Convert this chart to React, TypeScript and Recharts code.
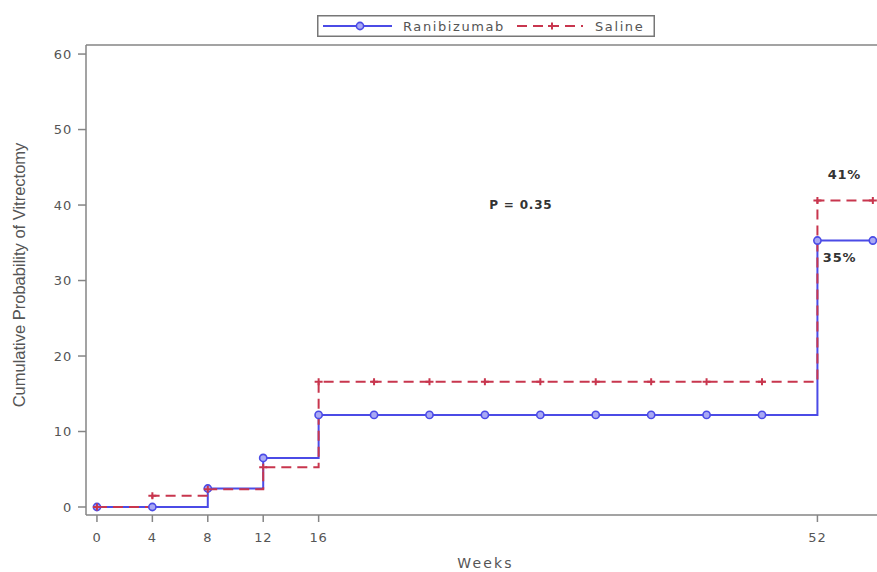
import React from 'react';
import { LineChart, Line, XAxis, YAxis, ReferenceDot } from 'recharts';

const weeks = [0, 4, 8, 12, 16, 20, 24, 28, 32, 36, 40, 44, 48, 52, 56];
const ranibizumab = [0, 0, 2.45, 6.5, 12.2, 12.2, 12.2, 12.2, 12.2, 12.2, 12.2, 12.2, 12.2, 35.3, 35.3];
const saline = [0, 1.5, 2.35, 5.25, 16.6, 16.6, 16.6, 16.6, 16.6, 16.6, 16.6, 16.6, 16.6, 40.6, 40.6];
const xTicks = [0, 4, 8, 12, 16, 52];
const yTicks = [0, 10, 20, 30, 40, 50, 60];
const annotations = [
  { x: 30.6, y: 40.1, text: 'P = 0.35' },
  { x: 53.95, y: 44.0, text: '41%' },
  { x: 53.6, y: 33.0, text: '35%' },
];

const data = weeks.map((w, i) => ({ week: w, ranibizumab: ranibizumab[i], saline: saline[i] }));

const BLUE = '#4b4be6';
const RED = '#c8364e';
const AXIS = '#858585';
const TXT = '#555';
const FONT = '"DejaVu Sans", sans-serif';

const BlueDot = (p: any) => {
  const { cx, cy, key } = p;
  if (cx == null || cy == null) return <g key={key} />;
  return <circle key={key} cx={cx} cy={cy} r={3.6} fill="#a9a9f4" stroke={BLUE} strokeWidth={1.6} />;
};

const RedDot = (p: any) => {
  const { cx, cy, key } = p;
  if (cx == null || cy == null) return <g key={key} />;
  return (
    <path key={key} d={`M${cx - 4},${cy} H${cx + 4} M${cx},${cy - 3.5} V${cy + 3.5}`} stroke={RED} strokeWidth={2} fill="none" />
  );
};

const LegendBox = () => (
  <svg width={338} height={22} style={{ display: 'block' }}>
    <rect x={0.75} y={0.75} width={336.5} height={20.5} fill="#fff" stroke="#777" strokeWidth={1.5} />
    <line x1={6} y1={11} x2={75} y2={11} stroke={BLUE} strokeWidth={2} />
    <circle cx={43} cy={11} r={3.6} fill="#a9a9f4" stroke={BLUE} strokeWidth={1.6} />
    <text x={86} y={11} dominantBaseline="central" fontFamily={FONT} fontSize={13} letterSpacing={1.6} fill={TXT}>Ranibizumab</text>
    <line x1={200} y1={11} x2={266} y2={11} stroke={RED} strokeWidth={2} strokeDasharray="10 6" />
    <path d="M231,11 H239 M235,7.5 V14.5" stroke={RED} strokeWidth={2} />
    <text x={278} y={11} dominantBaseline="central" fontFamily={FONT} fontSize={13} letterSpacing={1.6} fill={TXT}>Saline</text>
  </svg>
);

const YLabel = (props: any) => {
  const vb = props.viewBox || { x: 0, y: 45, width: 86, height: 470 };
  const x = vb.x + 19;
  const y = vb.y + vb.height / 2 - 5;
  return (
    <text x={x} y={y} transform={`rotate(-90, ${x}, ${y})`} textAnchor="middle" dominantBaseline="central"
      fontFamily='"Liberation Sans", Arial, sans-serif' fontSize={16.5} fill={TXT}>
      Cumulative Probability of Vitrectomy
    </text>
  );
};

const XLabel = (props: any) => {
  const vb = props.viewBox || { x: 86, y: 515, width: 791, height: 57 };
  const x = vb.x + vb.width / 2 + 4;
  const y = vb.y + 48;
  return (
    <text x={x} y={y} textAnchor="middle" dominantBaseline="central" fontFamily={FONT} fontSize={14} letterSpacing={2.2} fill={TXT}>
      Weeks
    </text>
  );
};

export default function App() {
  return (
    <div style={{ position: 'absolute', left: 0, top: 0, width: 877, height: 572, background: '#fff', fontFamily: FONT }}>
      <LineChart width={877} height={572} data={data} margin={{ top: 44, right: 0, bottom: 0, left: 0 }}>
        <XAxis
          dataKey="week"
          type="number"
          domain={[-0.79, 56.3]}
          ticks={xTicks}
          interval={0}
          allowDataOverflow
          height={57}
          axisLine={{ stroke: AXIS, strokeWidth: 1.5 }}
          tickLine={{ stroke: AXIS, strokeWidth: 1.5 }}
          tickSize={7}
          tickMargin={11}
          tick={{ fill: TXT, fontSize: 13, fontFamily: FONT, letterSpacing: 0.8 }}
          label={{ content: XLabel }}
        />
        <XAxis
          xAxisId="top"
          orientation="top"
          dataKey="week"
          type="number"
          domain={[-0.79, 56.3]}
          allowDataOverflow
          height={1}
          tick={false}
          tickLine={false}
          axisLine={{ stroke: AXIS, strokeWidth: 1.5 }}
        />
        <YAxis
          type="number"
          domain={[-1.06, 61.2]}
          ticks={yTicks}
          interval={0}
          allowDataOverflow
          width={86}
          axisLine={{ stroke: AXIS, strokeWidth: 1.5 }}
          tickLine={{ stroke: AXIS, strokeWidth: 1.5 }}
          tickSize={8}
          tickMargin={6}
          tick={{ fill: TXT, fontSize: 13, fontFamily: FONT, letterSpacing: 0.8 }}
          label={{ content: YLabel }}
        />
        <Line
          type="stepAfter"
          dataKey="ranibizumab"
          name="Ranibizumab"
          stroke={BLUE}
          strokeWidth={2}
          dot={BlueDot}
          activeDot={false}
          isAnimationActive={false}
        />
        <Line
          type="stepAfter"
          dataKey="saline"
          name="Saline"
          stroke={RED}
          strokeWidth={2}
          strokeDasharray="10 6"
          dot={RedDot}
          activeDot={false}
          isAnimationActive={false}
        />
        {annotations.map((a) => (
          <ReferenceDot
            key={a.text}
            x={a.x}
            y={a.y}
            r={0}
            fill="none"
            stroke="none"
            label={{
              value: a.text,
              position: 'center',
              fill: '#333',
              fontSize: a.text.startsWith('P') ? 12 : 13,
              fontWeight: 'bold',
              fontFamily: FONT,
              letterSpacing: 0.8,
            }}
          />
        ))}
      </LineChart>
      <div style={{ position: 'absolute', left: 317, top: 15 }}>
        <LegendBox />
      </div>
    </div>
  );
}
